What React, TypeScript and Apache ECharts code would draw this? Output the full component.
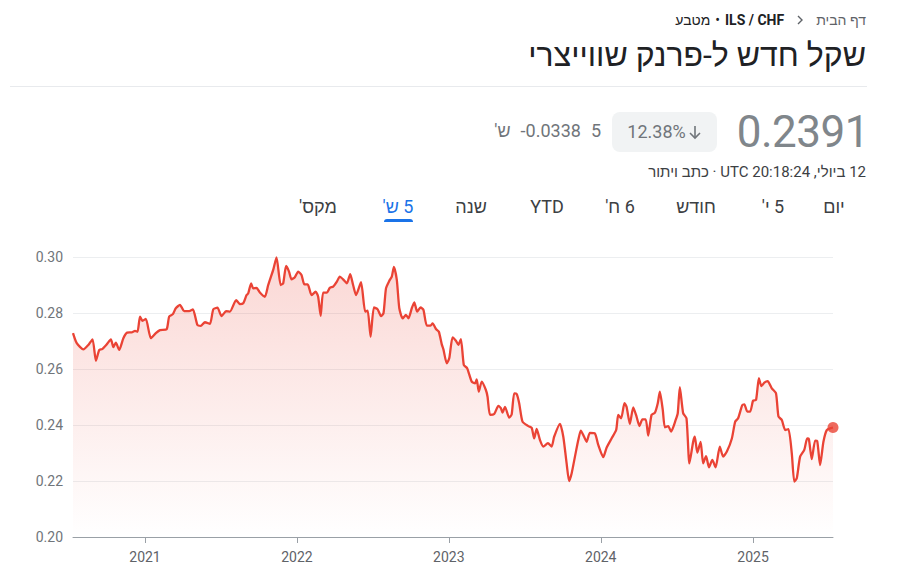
import React, { useEffect, useRef } from "react";
import * as echarts from "echarts";

const dates: string[] = [
  "2020-07-12","2020-07-21","2020-08-06","2020-08-18","2020-08-28","2020-09-05","2020-09-13","2020-09-20","2020-10-01","2020-10-11",
  "2020-10-17","2020-10-23","2020-10-31","2020-11-10","2020-11-19","2020-11-30","2020-12-08","2020-12-14","2020-12-20","2020-12-26",
  "2021-01-03","2021-01-15","2021-01-27","2021-02-06","2021-02-22","2021-02-28","2021-03-09","2021-03-16","2021-03-26","2021-04-05",
  "2021-04-17","2021-04-26","2021-05-07","2021-05-15","2021-05-25","2021-06-06","2021-06-14","2021-06-24","2021-07-04","2021-07-15",
  "2021-07-24","2021-08-08","2021-08-17","2021-08-25","2021-09-02","2021-09-06","2021-09-13","2021-09-18","2021-09-26","2021-10-04",
  "2021-10-16","2021-10-24","2021-11-05","2021-11-13","2021-11-23","2021-11-29","2021-12-06","2021-12-13","2021-12-19","2021-12-27",
  "2022-01-04","2022-01-12","2022-01-19","2022-01-27","2022-02-05","2022-02-15","2022-02-21","2022-02-27","2022-03-05","2022-03-14",
  "2022-03-21","2022-03-29","2022-04-07","2022-04-14","2022-04-22","2022-05-01","2022-05-09","2022-05-16","2022-05-23","2022-06-04",
  "2022-06-14","2022-06-20","2022-06-27","2022-07-05","2022-07-14","2022-07-22","2022-07-28","2022-08-03","2022-08-11","2022-08-17",
  "2022-08-22","2022-08-29","2022-09-04","2022-09-12","2022-09-20","2022-09-26","2022-10-04","2022-10-10","2022-10-17","2022-10-25",
  "2022-11-01","2022-11-09","2022-11-18","2022-11-23","2022-12-01","2022-12-08","2022-12-15","2022-12-19","2022-12-27","2023-01-02",
  "2023-01-10","2023-01-18","2023-01-24","2023-01-30","2023-02-06","2023-02-14","2023-02-25","2023-03-05","2023-03-09","2023-03-14",
  "2023-03-21","2023-03-31","2023-04-04","2023-04-10","2023-04-20","2023-04-30","2023-05-06","2023-05-10","2023-05-16","2023-05-26",
  "2023-06-01","2023-06-07","2023-06-13","2023-06-19","2023-06-27","2023-07-11","2023-07-19","2023-07-25","2023-07-31","2023-08-08",
  "2023-08-16","2023-08-27","2023-09-05","2023-09-11","2023-09-25","2023-10-03","2023-10-11","2023-10-17","2023-10-23","2023-10-31",
  "2023-11-08","2023-11-14","2023-11-22","2023-11-28","2023-12-06","2023-12-18","2023-12-26","2024-01-07","2024-01-15","2024-01-27",
  "2024-02-07","2024-02-12","2024-02-19","2024-02-27","2024-03-03","2024-03-11","2024-03-19","2024-03-27","2024-04-03","2024-04-10",
  "2024-04-18","2024-04-24","2024-05-02","2024-05-10","2024-05-17","2024-05-22","2024-05-29","2024-06-03","2024-06-11","2024-06-18",
  "2024-06-29","2024-07-04","2024-07-09","2024-07-17","2024-07-25","2024-08-01","2024-08-10","2024-08-14","2024-08-20","2024-08-28",
  "2024-09-03","2024-09-10","2024-09-17","2024-09-25","2024-10-03","2024-10-13","2024-10-21","2024-10-30","2024-11-11","2024-11-19",
  "2024-11-26","2024-12-06","2024-12-11","2024-12-18","2024-12-25","2025-01-01","2025-01-08","2025-01-15","2025-01-21","2025-01-28",
  "2025-02-05","2025-02-15","2025-02-25","2025-03-03","2025-03-11","2025-03-19","2025-03-27","2025-04-04","2025-04-10","2025-04-16",
  "2025-04-24","2025-05-04","2025-05-11","2025-05-15","2025-05-22","2025-05-30","2025-06-04","2025-06-11","2025-06-19","2025-06-27",
  "2025-07-09","2025-07-12"
];

const values: number[] = [
  0.2728,0.2692,0.2670,0.2686,0.2706,0.2629,0.2668,0.2671,0.2688,0.2706,
  0.2678,0.2694,0.2668,0.2710,0.2730,0.2731,0.2736,0.2733,0.2787,0.2772,
  0.2779,0.2710,0.2728,0.2739,0.2742,0.2787,0.2796,0.2817,0.2829,0.2807,
  0.2807,0.2813,0.2757,0.2754,0.2767,0.2761,0.2813,0.2819,0.2789,0.2807,
  0.2805,0.2846,0.2832,0.2835,0.2864,0.2870,0.2906,0.2888,0.2890,0.2873,
  0.2858,0.2900,0.2954,0.2999,0.2900,0.2906,0.2968,0.2948,0.2920,0.2928,
  0.2948,0.2936,0.2902,0.2902,0.2864,0.2876,0.2858,0.2790,0.2873,0.2873,
  0.2890,0.2894,0.2912,0.2930,0.2920,0.2906,0.2939,0.2900,0.2864,0.2910,
  0.2805,0.2808,0.2715,0.2820,0.2813,0.2789,0.2799,0.2888,0.2915,0.2930,
  0.2965,0.2918,0.2817,0.2781,0.2793,0.2781,0.2817,0.2838,0.2805,0.2820,
  0.2811,0.2755,0.2755,0.2763,0.2743,0.2733,0.2688,0.2670,0.2620,0.2638,
  0.2713,0.2701,0.2686,0.2707,0.2614,0.2603,0.2555,0.2549,0.2563,0.2519,
  0.2555,0.2525,0.2501,0.2436,0.2439,0.2468,0.2460,0.2444,0.2465,0.2426,
  0.2438,0.2513,0.2511,0.2478,0.2412,0.2396,0.2390,0.2352,0.2386,0.2346,
  0.2323,0.2335,0.2323,0.2358,0.2404,0.2358,0.2263,0.2200,0.2227,0.2287,
  0.2346,0.2380,0.2358,0.2340,0.2372,0.2370,0.2329,0.2285,0.2319,0.2352,
  0.2382,0.2436,0.2424,0.2478,0.2465,0.2404,0.2463,0.2430,0.2396,0.2420,
  0.2420,0.2362,0.2436,0.2444,0.2478,0.2519,0.2454,0.2392,0.2396,0.2376,
  0.2418,0.2442,0.2535,0.2442,0.2424,0.2263,0.2340,0.2358,0.2301,0.2340,
  0.2263,0.2289,0.2249,0.2275,0.2249,0.2323,0.2287,0.2305,0.2352,0.2412,
  0.2424,0.2471,0.2474,0.2448,0.2448,0.2487,0.2489,0.2567,0.2539,0.2551,
  0.2557,0.2531,0.2513,0.2430,0.2418,0.2382,0.2385,0.2299,0.2198,0.2210,
  0.2287,0.2311,0.2352,0.2350,0.2278,0.2344,0.2343,0.2257,0.2340,0.2382,
  0.2390,0.2391
];

const yTicks = { min: 0.2, max: 0.3, interval: 0.02 };
const xRange = { min: "2020-07-12", max: "2025-07-12" };

const tabs: { label: string; cx: number }[] = [
  { label: "יום", cx: 834 },
  { label: "5 י'", cx: 773 },
  { label: "חודש", cx: 696 },
  { label: "6 ח'", cx: 620 },
  { label: "YTD", cx: 547 },
  { label: "שנה", cx: 471 },
  { label: "5 ש'", cx: 398 },
  { label: "מקס'", cx: 318 },
];
const selectedTab = "5 ש'";

const FONT = "Roboto, 'Liberation Sans', Arial, sans-serif";

function Chart() {
  const ref = useRef<HTMLDivElement>(null);
  useEffect(() => {
    if (!ref.current) return;
    const chart = echarts.init(ref.current, null, { renderer: "svg" });
    const lineData = dates.map((d, i) => [d, values[i]]);
    const last = lineData[lineData.length - 1];
    chart.setOption({
      animation: false,
      textStyle: { fontFamily: FONT },
      grid: { left: 73, right: 64, top: 257, bottom: 50 },
      xAxis: {
        type: "time",
        min: xRange.min,
        max: xRange.max,
        minInterval: 365 * 864e5,
        maxInterval: 366 * 864e5,
        axisLine: { show: true, lineStyle: { color: "#9aa0a6", width: 1 } },
        axisTick: { show: true, length: 6, lineStyle: { color: "#9aa0a6" } },
        axisLabel: {
          color: "#5f6368",
          fontSize: 14,
          margin: 13,
          fontFamily: FONT,
          formatter: (v: number) => String(new Date(v).getFullYear()),
        },
        splitLine: { show: false },
      },
      yAxis: {
        type: "value",
        min: yTicks.min,
        max: yTicks.max,
        interval: yTicks.interval,
        axisLine: { show: false },
        axisTick: { show: false },
        axisLabel: {
          color: "#70757a",
          fontSize: 14,
          margin: 10,
          fontFamily: FONT,
          formatter: (v: number) => v.toFixed(2),
        },
        splitLine: { show: true, lineStyle: { color: "#eceef0", width: 1 } },
      },
      series: [
        {
          type: "line",
          data: lineData,
          showSymbol: false,
          smooth: 0.2,
          lineStyle: { color: "#ea4335", width: 2.3 },
          itemStyle: { color: "#ea4335" },
          areaStyle: {
            color: new echarts.graphic.LinearGradient(0, 0, 0, 1, [
              { offset: 0, color: "rgba(234,67,53,0.30)" },
              { offset: 1, color: "rgba(234,67,53,0.0)" },
            ]),
          },
          silent: true,
        },
        {
          type: "scatter",
          data: [last],
          symbolSize: 11,
          itemStyle: { color: "#ea4335" },
          silent: true,
        },
      ],
    });
    return () => chart.dispose();
  }, []);
  return <div ref={ref} style={{ position: "absolute", left: 0, top: 0, width: 897, height: 587 }} />;
}

function Abs(props: { style: React.CSSProperties; children?: React.ReactNode; dir?: string }) {
  return (
    <div dir={props.dir} style={{ position: "absolute", whiteSpace: "nowrap", fontFamily: FONT, ...props.style }}>
      {props.children}
    </div>
  );
}

export default function App() {
  useEffect(() => {
    document.body.style.margin = "0";
  }, []);
  return (
    <div style={{ position: "fixed", left: 0, top: 0, width: 897, height: 587, background: "#fff", overflow: "hidden" }}>
      <Chart />
      {/* breadcrumb */}
      <Abs dir="rtl" style={{ right: 31, top: 11, fontSize: 14, lineHeight: "18px", display: "flex", alignItems: "center" }}>
        <span style={{ color: "#5f6368" }}>דף הבית</span>
        <svg width="8" height="12" style={{ margin: "0 12px" }}>
          <polyline points="2,2 6,6 2,10" stroke="#5f6368" strokeWidth="1.4" fill="none" />
        </svg>
        <span style={{ color: "#202124", fontWeight: 700 }}>ILS / CHF</span>
        <span style={{ color: "#202124", margin: "0 5px" }}>•</span>
        <span style={{ color: "#202124" }}>מטבע</span>
      </Abs>
      {/* title */}
      <Abs dir="rtl" style={{ right: 31, top: 36, fontSize: 32, lineHeight: "38px", color: "#202124" }}>
        שקל חדש ל-פרנק שווייצרי
      </Abs>
      <div style={{ position: "absolute", left: 10, width: 857, top: 86, height: 1, background: "#e8eaed" }} />
      {/* price */}
      <Abs style={{ right: 28, top: 106, fontSize: 44, lineHeight: "52px", color: "#80868b", letterSpacing: "-0.5px" }}>
        0.2391
      </Abs>
      <div style={{ position: "absolute", left: 612, top: 112, width: 105, height: 40, borderRadius: 8, background: "#f1f3f4" }} />
      <Abs style={{ left: 612, width: 105, top: 112, height: 40, lineHeight: "40px", fontSize: 18, color: "#70757a", display: "flex", alignItems: "center", justifyContent: "center" }}>
        <span>12.38%</span>
        <svg width="14" height="16" style={{ marginLeft: 2 }}>
          <line x1="7" y1="2" x2="7" y2="14" stroke="#70757a" strokeWidth="1.6" />
          <polyline points="2,9 7,14 12,9" stroke="#70757a" strokeWidth="1.6" fill="none" />
        </svg>
      </Abs>
      <Abs dir="ltr" style={{ right: 296, top: 120, fontSize: 18, lineHeight: "22px", color: "#70757a", display: "flex", alignItems: "center" }}>
        <span dir="rtl">ש'</span>
        <span style={{ marginLeft: 10 }}>-0.0338</span>
        <span style={{ marginLeft: 10 }}>5</span>
      </Abs>
      {/* date line */}
      <Abs dir="rtl" style={{ right: 31, top: 163, fontSize: 15, lineHeight: "18px", color: "#3c4043" }}>
        12 ביולי, 20:18:24 UTC · כתב ויתור
      </Abs>
      {/* tabs */}
      {tabs.map((t) => (
        <Abs
          key={t.label}
          dir="rtl"
          style={{
            left: t.cx,
            top: 195,
            transform: "translateX(-50%)",
            fontSize: 18,
            lineHeight: "24px",
            fontWeight: 400,
            color: t.label === selectedTab ? "#1a73e8" : "#3c4043",
          }}
        >
          {t.label}
        </Abs>
      ))}
      <div style={{ position: "absolute", left: 384, width: 29, top: 219, height: 3, borderRadius: "3px 3px 0 0", background: "#1a73e8" }} />
    </div>
  );
}
